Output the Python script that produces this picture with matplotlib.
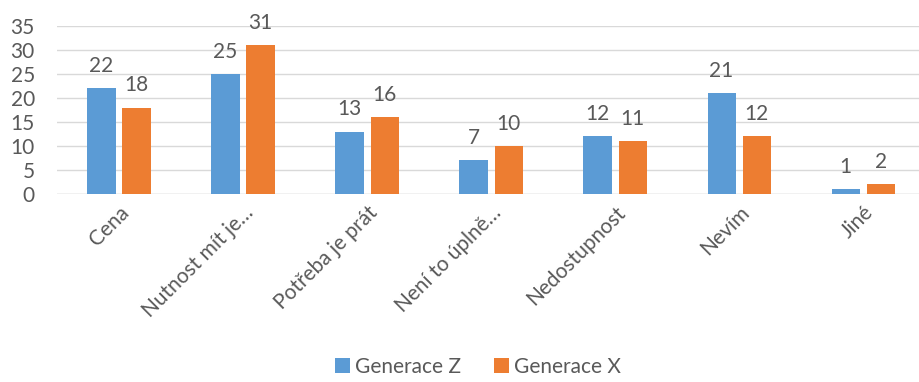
import matplotlib.pyplot as plt
import numpy as np

plt.rcParams['font.family'] = ['Lato', 'DejaVu Sans']

categories = ['Cena', 'Nutnost mít je…', 'Potřeba je prát', 'Není to úplně…',
              'Nedostupnost', 'Nevím', 'Jiné']
gen_z = [22, 25, 13, 7, 12, 21, 1]
gen_x = [18, 31, 16, 10, 11, 12, 2]

blue = '#5B9BD5'
orange = '#ED7D31'
txt = '#595959'
fs = 15

fig = plt.figure(figsize=(9.19, 3.82), dpi=100)
ax = fig.add_axes([0.062, 0.492, 0.938, 0.44])

x = np.arange(len(categories))
w = 0.227
gap = 0.028
b1 = ax.bar(x - w/2 - gap, gen_z, w, color=blue, label='Generace Z', zorder=3)
b2 = ax.bar(x + w/2 + gap, gen_x, w, color=orange, label='Generace X', zorder=3)

for bars in (b1, b2):
    for r in bars:
        ax.text(r.get_x() + r.get_width()/2, r.get_height() + 2.6, str(int(r.get_height())),
                ha='center', va='bottom', fontsize=fs, color=txt)

ax.set_ylim(0, 35)
ax.set_yticks(range(0, 36, 5))
ax.set_xlim(-0.5, 6.45)
ax.set_xticks(x)
ax.set_xticklabels(categories, rotation=45, ha='right', rotation_mode='anchor',
                   fontsize=fs, color=txt)
ax.tick_params(axis='x', length=0, pad=6)
ax.tick_params(axis='y', length=0, labelsize=fs, labelcolor=txt, pad=16)
ax.grid(axis='y', color='#D9D9D9', linewidth=1, zorder=0)
for s in ax.spines.values():
    s.set_visible(False)
ax.axhline(0, color='#D9D9D9', linewidth=1, zorder=1)

fig.legend(loc='lower center', bbox_to_anchor=(0.52, -0.035), ncol=2, frameon=False,
           fontsize=fs, labelcolor=txt, handlelength=0.7, handleheight=0.7,
           handletextpad=0.25, columnspacing=1.6)

fig.savefig('out.png', dpi=100)
